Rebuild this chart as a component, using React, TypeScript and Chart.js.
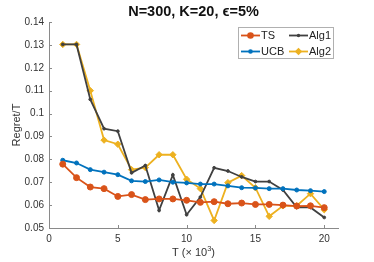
import React, { useEffect, useRef } from "react";
import { Chart, registerables } from "chart.js";

Chart.register(...registerables);

const T = [1, 2, 3, 4, 5, 6, 7, 8, 9, 10, 11, 12, 13, 14, 15, 16, 17, 18, 19, 20];
const TS = [0.0779, 0.072, 0.0679, 0.0672, 0.0638, 0.0646, 0.0624, 0.0627, 0.0627, 0.0621, 0.0612, 0.0615, 0.0606, 0.0609, 0.0603, 0.0603, 0.06, 0.0596, 0.0597, 0.0589];
const UCB = [0.0796, 0.0784, 0.0755, 0.0744, 0.0733, 0.0706, 0.0703, 0.071, 0.07, 0.0697, 0.0692, 0.0692, 0.0684, 0.0676, 0.0675, 0.0672, 0.0672, 0.0666, 0.0663, 0.0659];
const ALG1 = [0.1302, 0.1302, 0.1062, 0.0934, 0.0923, 0.0741, 0.0773, 0.0577, 0.0732, 0.0558, 0.0635, 0.0763, 0.0749, 0.0723, 0.0703, 0.0703, 0.0666, 0.059, 0.059, 0.0546];
const ALG2 = [0.1302, 0.1302, 0.11, 0.0884, 0.0866, 0.0755, 0.0764, 0.082, 0.082, 0.0713, 0.0672, 0.0533, 0.0698, 0.0729, 0.0676, 0.0551, 0.0597, 0.0597, 0.065, 0.058];
const X_TICKS = [0, 5, 10, 15, 20];
const Y_TICKS = [0.05, 0.06, 0.07, 0.08, 0.09, 0.1, 0.11, 0.12, 0.13, 0.14];
const TITLE = "N=300, K=20, \u03F5=5%";
const X_LABEL = "T (\u00D7 10";
const Y_LABEL = "Regret/T";

const COLORS = { TS: "#D95319", UCB: "#0072BD", Alg1: "#404040", Alg2: "#EDB120" };
const FONT = "'Liberation Sans', Arial, Helvetica, sans-serif";

export default function App() {
  const ref = useRef<HTMLCanvasElement | null>(null);
  useEffect(() => {
    document.body.style.margin = "0";
    const ctx = ref.current!.getContext("2d")!;
    const mk = (label: string, vals: number[], color: string, style: any, r: number) => ({
      label,
      data: T.map((t, i) => ({ x: t, y: vals[i] })),
      borderColor: color,
      backgroundColor: color,
      borderWidth: 1.8,
      pointStyle: style,
      pointRadius: r,
      pointBorderWidth: 1,
      tension: 0,
    });
    const datasets = [
      mk("TS", TS, COLORS.TS, "circle", 3),
      mk("UCB", UCB, COLORS.UCB, "circle", 2),
      mk("Alg1", ALG1, COLORS.Alg1, "circle", 1.4),
      mk("Alg2", ALG2, COLORS.Alg2, "rectRot", 3.2),
    ];
    const deco = {
      id: "deco",
      afterDraw(chart: any) {
        const c = chart.ctx;
        const xs = chart.scales.x;
        const ys = chart.scales.y;
        const a = chart.chartArea;
        c.save();
        // inward ticks
        c.strokeStyle = "#8a8a8a";
        c.lineWidth = 1;
        c.beginPath();
        Y_TICKS.forEach((v) => {
          const y = Math.round(ys.getPixelForValue(v)) + 0.5;
          c.moveTo(a.left, y);
          c.lineTo(a.left + 3, y);
        });
        X_TICKS.forEach((v) => {
          const x = Math.round(xs.getPixelForValue(v)) + 0.5;
          c.moveTo(x, a.bottom);
          c.lineTo(x, a.bottom - 3);
        });
        c.stroke();
        // title
        c.fillStyle = "#111";
        c.font = `bold 14.5px ${FONT}`;
        c.textAlign = "center";
        c.textBaseline = "middle";
        c.fillText(TITLE, (a.left + a.right) / 2, 12);
        // x label
        c.font = `11px ${FONT}`;
        c.fillStyle = "#333";
        const w1 = c.measureText(X_LABEL).width;
        c.font = `7.5px ${FONT}`;
        const w2 = c.measureText("3").width;
        c.font = `11px ${FONT}`;
        const w3 = c.measureText(")").width;
        const total = w1 + w2 + w3;
        let sx = (a.left + a.right) / 2 - total / 2;
        c.textAlign = "left";
        c.textBaseline = "alphabetic";
        c.fillText(X_LABEL, sx, 256);
        c.font = `7.5px ${FONT}`;
        c.fillText("3", sx + w1, 250.5);
        c.font = `11px ${FONT}`;
        c.fillText(")", sx + w1 + w2, 256);
        // y label
        c.save();
        c.translate(17, (a.top + a.bottom) / 2);
        c.rotate(-Math.PI / 2);
        c.textAlign = "center";
        c.textBaseline = "middle";
        c.fillText(Y_LABEL, 0, 0);
        c.restore();
        // legend
        const bx = 238, by = 27, bw = 95, bh = 31;
        c.fillStyle = "#fff";
        c.fillRect(bx, by, bw, bh);
        c.strokeStyle = "#b0b0b0";
        c.lineWidth = 1;
        c.strokeRect(bx + 0.5, by + 0.5, bw, bh);
        const items = [
          { i: 0, x: 241, y: 35.5 },
          { i: 2, x: 289, y: 35.5 },
          { i: 1, x: 241, y: 51.5 },
          { i: 3, x: 289, y: 51.5 },
        ];
        items.forEach(({ i, x, y }) => {
          const ds: any = datasets[i];
          c.strokeStyle = ds.borderColor;
          c.lineWidth = 1.8;
          c.beginPath();
          c.moveTo(x, y);
          c.lineTo(x + 19, y);
          c.stroke();
          c.fillStyle = ds.backgroundColor;
          c.beginPath();
          if (ds.pointStyle === "rectRot") {
            const r = ds.pointRadius + 0.5;
            c.moveTo(x + 9.5, y - r);
            c.lineTo(x + 9.5 + r, y);
            c.lineTo(x + 9.5, y + r);
            c.lineTo(x + 9.5 - r, y);
            c.closePath();
          } else {
            c.arc(x + 9.5, y, ds.pointRadius + 0.3, 0, Math.PI * 2);
          }
          c.fill();
          c.fillStyle = "#222";
          c.font = `11px ${FONT}`;
          c.textAlign = "left";
          c.textBaseline = "middle";
          c.fillText(ds.label, x + 20, y + 0.5);
        });
        c.restore();
      },
    };
    const chart = new Chart(ctx, {
      type: "line",
      data: { datasets: datasets as any },
      options: {
        animation: false,
        responsive: false,
        maintainAspectRatio: false,
        layout: { padding: { left: 0, right: 36, top: 22, bottom: 0 } },
        plugins: { legend: { display: false }, title: { display: false }, tooltip: { enabled: false } },
        scales: {
          x: {
            type: "linear",
            min: 0,
            max: 21,
            grid: { display: false, drawTicks: false },
            border: { display: true, color: "#8a8a8a", width: 1 },
            afterBuildTicks: (s: any) => {
              s.ticks = X_TICKS.map((v) => ({ value: v }));
            },
            afterFit: (s: any) => {
              s.height = 34;
            },
            ticks: { padding: 5, color: "#333", font: { family: FONT, size: 10 }, maxRotation: 0 },
          },
          y: {
            min: 0.05,
            max: 0.14,
            grid: { display: false, drawTicks: false },
            border: { display: true, color: "#8a8a8a", width: 1 },
            afterBuildTicks: (s: any) => {
              s.ticks = Y_TICKS.map((v) => ({ value: v }));
            },
            afterFit: (s: any) => {
              s.width = 49;
            },
            ticks: {
              padding: 5,
              color: "#333",
              font: { family: FONT, size: 10 },
              callback: (v: any) => String(Number(Number(v).toFixed(2))),
            },
          },
        },
      },
      plugins: [deco],
    });
    return () => chart.destroy();
  }, []);
  return <canvas ref={ref} width={374} height={262} style={{ display: "block" }} />;
}
